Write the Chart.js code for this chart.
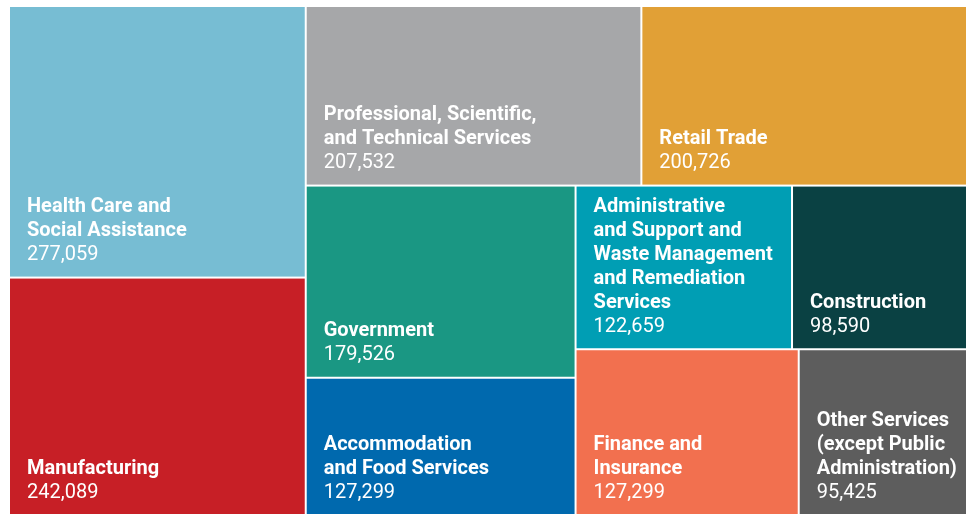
<!DOCTYPE html>
<html>
<head>
<meta charset="utf-8">
<script src="https://cdn.jsdelivr.net/npm/chart.js@4.4.1/dist/chart.umd.min.js"></script>
<style>
  html, body { margin: 0; padding: 0; background: #fff; }
  #wrap { width: 966px; height: 514px; position: relative; }
</style>
</head>
<body>
<div id="wrap"><canvas id="treemapChart"></canvas></div>
<script>
// industries, label lines as they wrap in the cells
const categories = [
  ['Health Care and', 'Social Assistance'],
  ['Manufacturing'],
  ['Professional, Scientific,', 'and Technical Services'],
  ['Retail Trade'],
  ['Government'],
  ['Accommodation', 'and Food Services'],
  ['Administrative', 'and Support and', 'Waste Management', 'and Remediation', 'Services'],
  ['Construction'],
  ['Finance and', 'Insurance'],
  ['Other Services', '(except Public', 'Administration)']
];
const values = [277059, 242089, 207532, 200726, 179526, 127299, 122659, 98590, 127299, 95425];
const colors = ['#77bdd3', '#c71f26', '#a6a7a9', '#e1a036', '#1a9783', '#0069ae', '#009eb4', '#0a4143', '#f2704f', '#5d5d5d'];

// how the cells are grouped: 'row' splits left-to-right, 'col' top-to-bottom
const groups = {
  dir: 'row', items: [
    { dir: 'col', items: [0, 1] },
    { dir: 'col', items: [
      { dir: 'row', items: [2, 3] },
      { dir: 'row', items: [
        { dir: 'col', items: [4, 5] },
        { dir: 'col', items: [
          { dir: 'row', items: [6, 7] },
          { dir: 'row', items: [8, 9] }
        ]}
      ]}
    ]}
  ]
};

function groupTotal(node) {
  if (typeof node === 'number') return values[node];
  return node.items.reduce((s, n) => s + groupTotal(n), 0);
}

// slice the unit square by value, returns rects in data space
function layout(node, x0, y0, x1, y1, out) {
  if (typeof node === 'number') {
    out[node] = { x0: x0, y0: y0, x1: x1, y1: y1 };
    return out;
  }
  const total = groupTotal(node);
  let pos = node.dir === 'row' ? x0 : y0;
  node.items.forEach(function(n) {
    const frac = groupTotal(n) / total;
    if (node.dir === 'row') {
      const w = (x1 - x0) * frac;
      layout(n, pos, y0, pos + w, y1, out);
      pos += w;
    } else {
      const h = (y1 - y0) * frac;
      layout(n, x0, pos, x1, pos + h, out);
      pos += h;
    }
  });
  return out;
}

const cells = layout(groups, 0, 0, 1, 1, []);

const treemapPlugin = {
  id: 'treemapCells',
  beforeDatasetsDraw(chart) {
    const ctx = chart.ctx;
    const xs = chart.scales.x, ys = chart.scales.y;
    ctx.save();
    cells.forEach(function(c, i) {
      const gl = c.x0 > 0 ? 1 : 0, gr = c.x1 < 1 ? 1 : 0;
      const gt = c.y0 > 0 ? 1 : 0, gb = c.y1 < 1 ? 1 : 0;
      const left = xs.getPixelForValue(c.x0) + gl;
      const right = xs.getPixelForValue(c.x1) - gr;
      const top = ys.getPixelForValue(c.y0) + gt;
      const bottom = ys.getPixelForValue(c.y1) - gb;
      ctx.fillStyle = colors[i];
      ctx.fillRect(left, top, right - left, bottom - top);

      ctx.fillStyle = '#ffffff';
      ctx.textBaseline = 'alphabetic';
      ctx.textAlign = 'left';
      let baseY = bottom - 16.5;
      ctx.font = '400 20px Roboto';
      ctx.fillText(values[i].toLocaleString('en-US'), left + 17, baseY);
      ctx.font = '700 20px Roboto';
      const lines = categories[i];
      for (let k = lines.length - 1; k >= 0; k--) {
        baseY -= 24;
        ctx.fillText(lines[k], left + 17, baseY);
      }
    });
    ctx.restore();
  }
};

document.addEventListener('DOMContentLoaded', function() {
  const ctx = document.getElementById('treemapChart').getContext('2d');
  new Chart(ctx, {
    type: 'scatter',
    data: {
      labels: categories.map(l => l.join(' ')),
      datasets: [{ data: [], pointRadius: 0 }]
    },
    options: {
      responsive: true,
      maintainAspectRatio: false,
      animation: false,
      layout: { padding: { left: 10, top: 7, right: 0, bottom: 0 } },
      plugins: { legend: { display: false }, tooltip: { enabled: false } },
      scales: {
        x: { type: 'linear', min: 0, max: 1, display: false },
        y: { type: 'linear', min: 0, max: 1, reverse: true, display: false }
      }
    },
    plugins: [treemapPlugin]
  });
});
</script>
</body>
</html>
